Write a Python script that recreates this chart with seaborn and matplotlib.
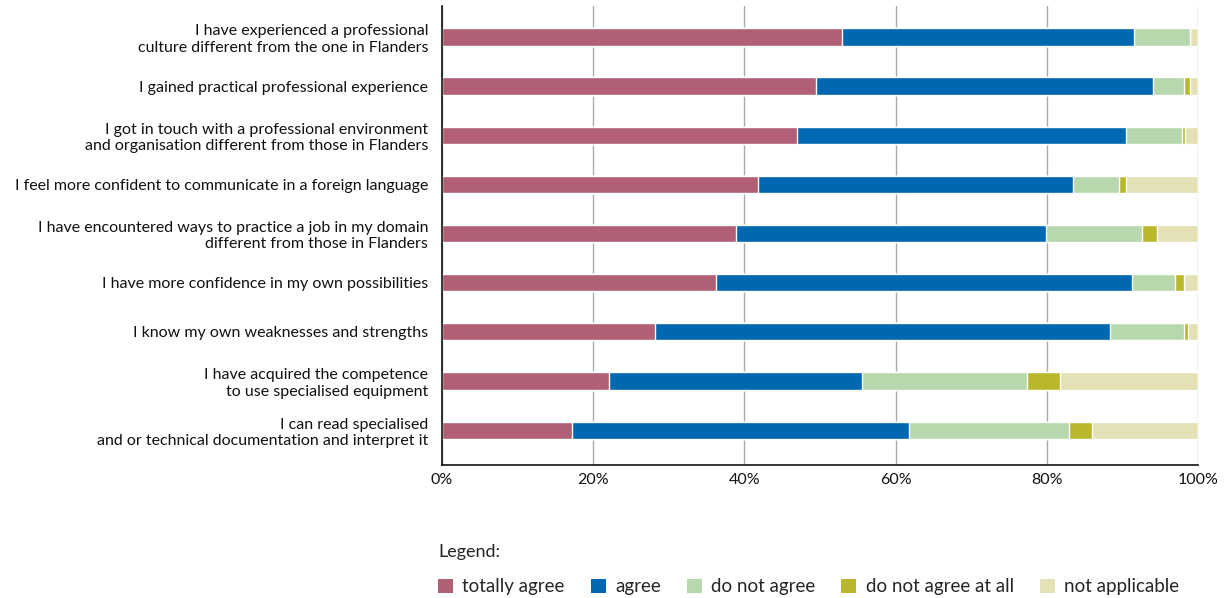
import pandas as pd
import seaborn as sns
import matplotlib.pyplot as plt
from matplotlib.patches import Patch
from matplotlib.ticker import PercentFormatter

# statements (top to bottom) and answer shares in %
statements = [
    "I have experienced a professional\nculture different from the one in Flanders",
    "I gained practical professional experience",
    "I got in touch with a professional environment\nand organisation different from those in Flanders",
    "I feel more confident to communicate in a foreign language",
    "I have encountered ways to practice a job in my domain\ndifferent from those in Flanders",
    "I have more confidence in my own possibilities",
    "I know my own weaknesses and strengths",
    "I have acquired the competence\nto use specialised equipment",
    "I can read specialised\nand or technical documentation and interpret it",
]
totally_agree = [52.9, 49.4, 46.9, 41.8, 38.9, 36.3, 28.1, 22.1, 17.2]
agree = [38.6, 44.6, 43.6, 41.7, 41.0, 54.9, 60.2, 33.4, 44.5]
do_not_agree = [7.4, 4.2, 7.4, 6.1, 12.7, 5.8, 9.8, 21.9, 21.2]
do_not_agree_at_all = [0.0, 0.8, 0.4, 0.9, 2.0, 1.1, 0.6, 4.3, 3.1]
not_applicable = [1.1, 1.0, 1.7, 9.5, 5.4, 1.9, 1.3, 18.3, 14.0]

answers = ["totally agree", "agree", "do not agree", "do not agree at all", "not applicable"]
colors = ["#b05f75", "#0067b1", "#b7d8ad", "#b9b82c", "#e3e1b5"]

df = pd.DataFrame({
    "statement": statements,
    "totally agree": totally_agree,
    "agree": agree,
    "do not agree": do_not_agree,
    "do not agree at all": do_not_agree_at_all,
    "not applicable": not_applicable,
})
cum = df[answers].cumsum(axis=1)
cum["statement"] = df["statement"]

sns.set_style("white")
plt.rcParams["font.family"] = ["Lato", "DejaVu Sans"]

fig = plt.figure(figsize=(12.28, 5.98), dpi=100)
ax = fig.add_axes([0.36, 0.2224, 0.6156, 0.7676])

# stacked bars: draw cumulative totals from the right-most segment backwards
for ans, col in reversed(list(zip(answers, colors))):
    sns.barplot(data=cum, x=ans, y="statement", orient="h", color=col,
                width=0.35, saturation=1, ax=ax, zorder=2)

ax.set_xlim(0, 100)
ax.set_ylim(8.71, -0.63)
ax.set_xticks([0, 20, 40, 60, 80, 100])
ax.xaxis.set_major_formatter(PercentFormatter(decimals=0))
ax.grid(axis="x", color="#aaaaaa", linewidth=1, zorder=0)
ax.set_axisbelow(True)
ax.set_xlabel("")
ax.set_ylabel("")
for s in ["top", "right"]:
    ax.spines[s].set_visible(False)
for s in ["left", "bottom"]:
    ax.spines[s].set_color("#111111")
    ax.spines[s].set_linewidth(1.2)
ax.tick_params(axis="x", direction="in", length=6, width=1, labelsize=11.5,
               pad=6, colors="#111111")
ax.tick_params(axis="y", length=0, labelsize=11.5, pad=10, colors="#111111")

handles = [Patch(facecolor=c, edgecolor="none") for c in colors]
fig.legend(handles, answers, loc="lower left", bbox_to_anchor=(0.343, -0.024),
           ncol=5, frameon=False, fontsize=13.5, title="Legend:",
           title_fontsize=13, alignment="left", handlelength=0.8,
           handleheight=0.8, handletextpad=0.5, columnspacing=1.38,
           labelspacing=1.0)

fig.savefig("out.png", dpi=100)
